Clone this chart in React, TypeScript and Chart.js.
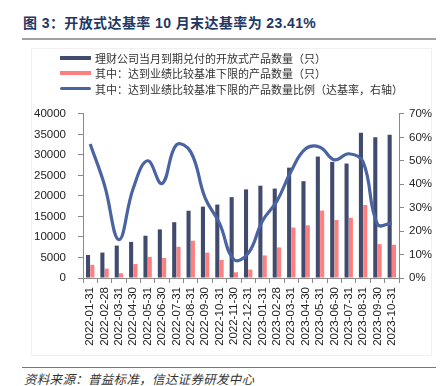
import React, { useEffect, useRef } from "react";
import { Chart, registerables } from "chart.js";

Chart.register(...registerables);

const categories = [
  "2022-01-31", "2022-02-28", "2022-03-31", "2022-04-30", "2022-05-31", "2022-06-30",
  "2022-07-31", "2022-08-31", "2022-09-30", "2022-10-31", "2022-11-30", "2022-12-31",
  "2023-01-31", "2023-02-28", "2023-03-31", "2023-04-30", "2023-05-31", "2023-06-30",
  "2023-07-31", "2023-08-31", "2023-09-30", "2023-10-31",
];

const totalProducts = [
  5600, 6200, 7900, 8800, 10300, 11850, 13600, 16400, 17400, 17900, 19700, 21600,
  22500, 21800, 26900, 23600, 29600, 28300, 27900, 35400, 34300, 34900,
];

const reachedProducts = [
  3200, 2300, 1150, 3400, 5150, 4900, 7600, 9100, 6200, 4400, 1400, 2050,
  5500, 7450, 12300, 12850, 16450, 14150, 14700, 17800, 8250, 8100,
];

const reachRatio = [
  57.2, 39.6, 16.4, 38.3, 50.0, 40.3, 56.8, 53.8, 34.2, 23.4, 7.9, 10.5,
  24.4, 32.8, 45.7, 55.1, 55.8, 50.4, 53.0, 49.5, 23.0, 23.41,
];

const leftTicksMax = 40000;
const leftStep = 5000;
const rightTicksMax = 70;
const rightStep = 10;

const legendLabels = [
  "理财公司当月到期兑付的开放式产品数量（只）",
  "其中：达到业绩比较基准下限的产品数量（只）",
  "其中：达到业绩比较基准下限的产品数量比例（达基率，右轴）",
];

const NAVY = "#414b6d";
const PINK = "#ff7f7f";
const BLUE = "#4a63a3";
const AXIS = "#8a8a8a";
const TICK_FONT = { family: "'Liberation Sans', Arial, sans-serif", size: 11.5 };

export default function App() {
  const canvasRef = useRef<HTMLCanvasElement | null>(null);

  useEffect(() => {
    const canvas = canvasRef.current;
    if (!canvas) return;
    const chart = new Chart(canvas, {
      type: "bar",
      data: {
        labels: categories,
        datasets: [
          {
            type: "line",
            label: legendLabels[2],
            data: reachRatio,
            yAxisID: "y1",
            borderColor: BLUE,
            backgroundColor: BLUE,
            borderWidth: 3.2,
            pointRadius: 0,
            tension: 0.42,
            order: 0,
          } as any,
          {
            label: legendLabels[0],
            data: totalProducts,
            yAxisID: "y",
            backgroundColor: NAVY,
            categoryPercentage: 0.6,
            barPercentage: 0.95,
            order: 1,
          },
          {
            label: legendLabels[1],
            data: reachedProducts,
            yAxisID: "y",
            backgroundColor: PINK,
            categoryPercentage: 0.6,
            barPercentage: 0.95,
            order: 1,
          },
        ],
      },
      options: {
        responsive: false,
        devicePixelRatio: 1,
        animation: false,
        layout: { padding: { top: 10, left: 0, right: 0, bottom: 0 } },
        plugins: {
          legend: { display: false },
          tooltip: { enabled: false },
          title: { display: false },
        },
        scales: {
          x: {
            type: "category",
            offset: true,
            grid: {
              display: true,
              drawOnChartArea: false,
              drawTicks: true,
              tickLength: 5,
              color: AXIS,
              offset: true,
            },
            border: { display: true, color: AXIS },
            ticks: {
              autoSkip: false,
              minRotation: 90,
              maxRotation: 90,
              padding: 4,
              color: "#222",
              font: TICK_FONT,
            },
            afterFit: (s: any) => {
              s.height = 77;
            },
          },
          y: {
            position: "left",
            min: 0,
            max: leftTicksMax,
            grid: {
              drawOnChartArea: false,
              drawTicks: true,
              tickLength: 5,
              color: AXIS,
            },
            border: { display: true, color: AXIS },
            ticks: {
              stepSize: leftStep,
              padding: 12,
              color: "#222",
              font: TICK_FONT,
              callback: (v: any) => String(Math.round(Number(v))),
            },
            afterFit: (s: any) => {
              s.width = 83;
            },
          },
          y1: {
            position: "right",
            min: 0,
            max: rightTicksMax,
            grid: {
              drawOnChartArea: false,
              drawTicks: true,
              tickLength: 5,
              color: AXIS,
            },
            border: { display: true, color: AXIS },
            ticks: {
              stepSize: rightStep,
              padding: 5,
              color: "#222",
              font: TICK_FONT,
              callback: (v: any) => `${Math.round(Number(v))}%`,
            },
            afterFit: (s: any) => {
              s.width = 47;
            },
          },
        },
      },
    });
    return () => chart.destroy();
  }, []);

  const legendColors = [NAVY, PINK, BLUE];
  const legendRows = [57.7, 73.3, 88.7];

  return (
    <div
      style={{
        position: "fixed",
        left: 0,
        top: 0,
        width: 446,
        height: 386,
        background: "#fff",
        overflow: "hidden",
      }}
    >
      <div
        style={{
          position: "absolute",
          left: 23,
          top: 14,
          lineHeight: "18px",
          fontSize: 14,
          fontWeight: 700,
          letterSpacing: 0.4,
          color: "#1f3864",
          fontFamily: "'Liberation Sans', 'Noto Sans CJK SC', sans-serif",
          whiteSpace: "pre",
        }}
      >
        图 3：开放式达基率 10 月末达基率为 23.41%
      </div>
      <div
        style={{
          position: "absolute",
          left: 22,
          top: 37.5,
          width: 414,
          height: 2,
          background: "#a0a0a0",
        }}
      />
      <div
        style={{
          position: "absolute",
          left: 31,
          top: 48,
          width: 401,
          height: 308,
          border: "1px solid #f0f0f0",
          boxSizing: "border-box",
        }}
      />
      <canvas
        ref={canvasRef}
        width={446}
        height={260}
        style={{ position: "absolute", left: 0, top: 95, width: 446, height: 260 }}
      />
      {legendLabels.map((label, i) => (
        <React.Fragment key={label}>
          <div
            style={{
              position: "absolute",
              left: 60,
              top: legendRows[i] - (i === 2 ? 1.5 : 2),
              width: 31,
              height: i === 2 ? 3 : 4,
              borderRadius: i === 2 ? 2 : 0,
              background: legendColors[i],
            }}
          />
          <div
            style={{
              position: "absolute",
              left: 95,
              top: legendRows[i] - 8,
              lineHeight: "16px",
              fontSize: 11,
              color: "#333",
              fontFamily: "'Noto Sans CJK SC', sans-serif",
              whiteSpace: "nowrap",
            }}
          >
            {label}
          </div>
        </React.Fragment>
      ))}
      <div
        style={{
          position: "absolute",
          left: 22,
          top: 367,
          width: 414,
          height: 1,
          background: "#777",
        }}
      />
      <div
        style={{
          position: "absolute",
          left: 24,
          top: 370,
          lineHeight: "18px",
          fontSize: 12.5,
          letterSpacing: 0.3,
          fontStyle: "italic",
          color: "#333",
          fontFamily: "'Noto Sans CJK SC', sans-serif",
          whiteSpace: "nowrap",
        }}
      >
        资料来源：普益标准，信达证券研发中心
      </div>
    </div>
  );
}
